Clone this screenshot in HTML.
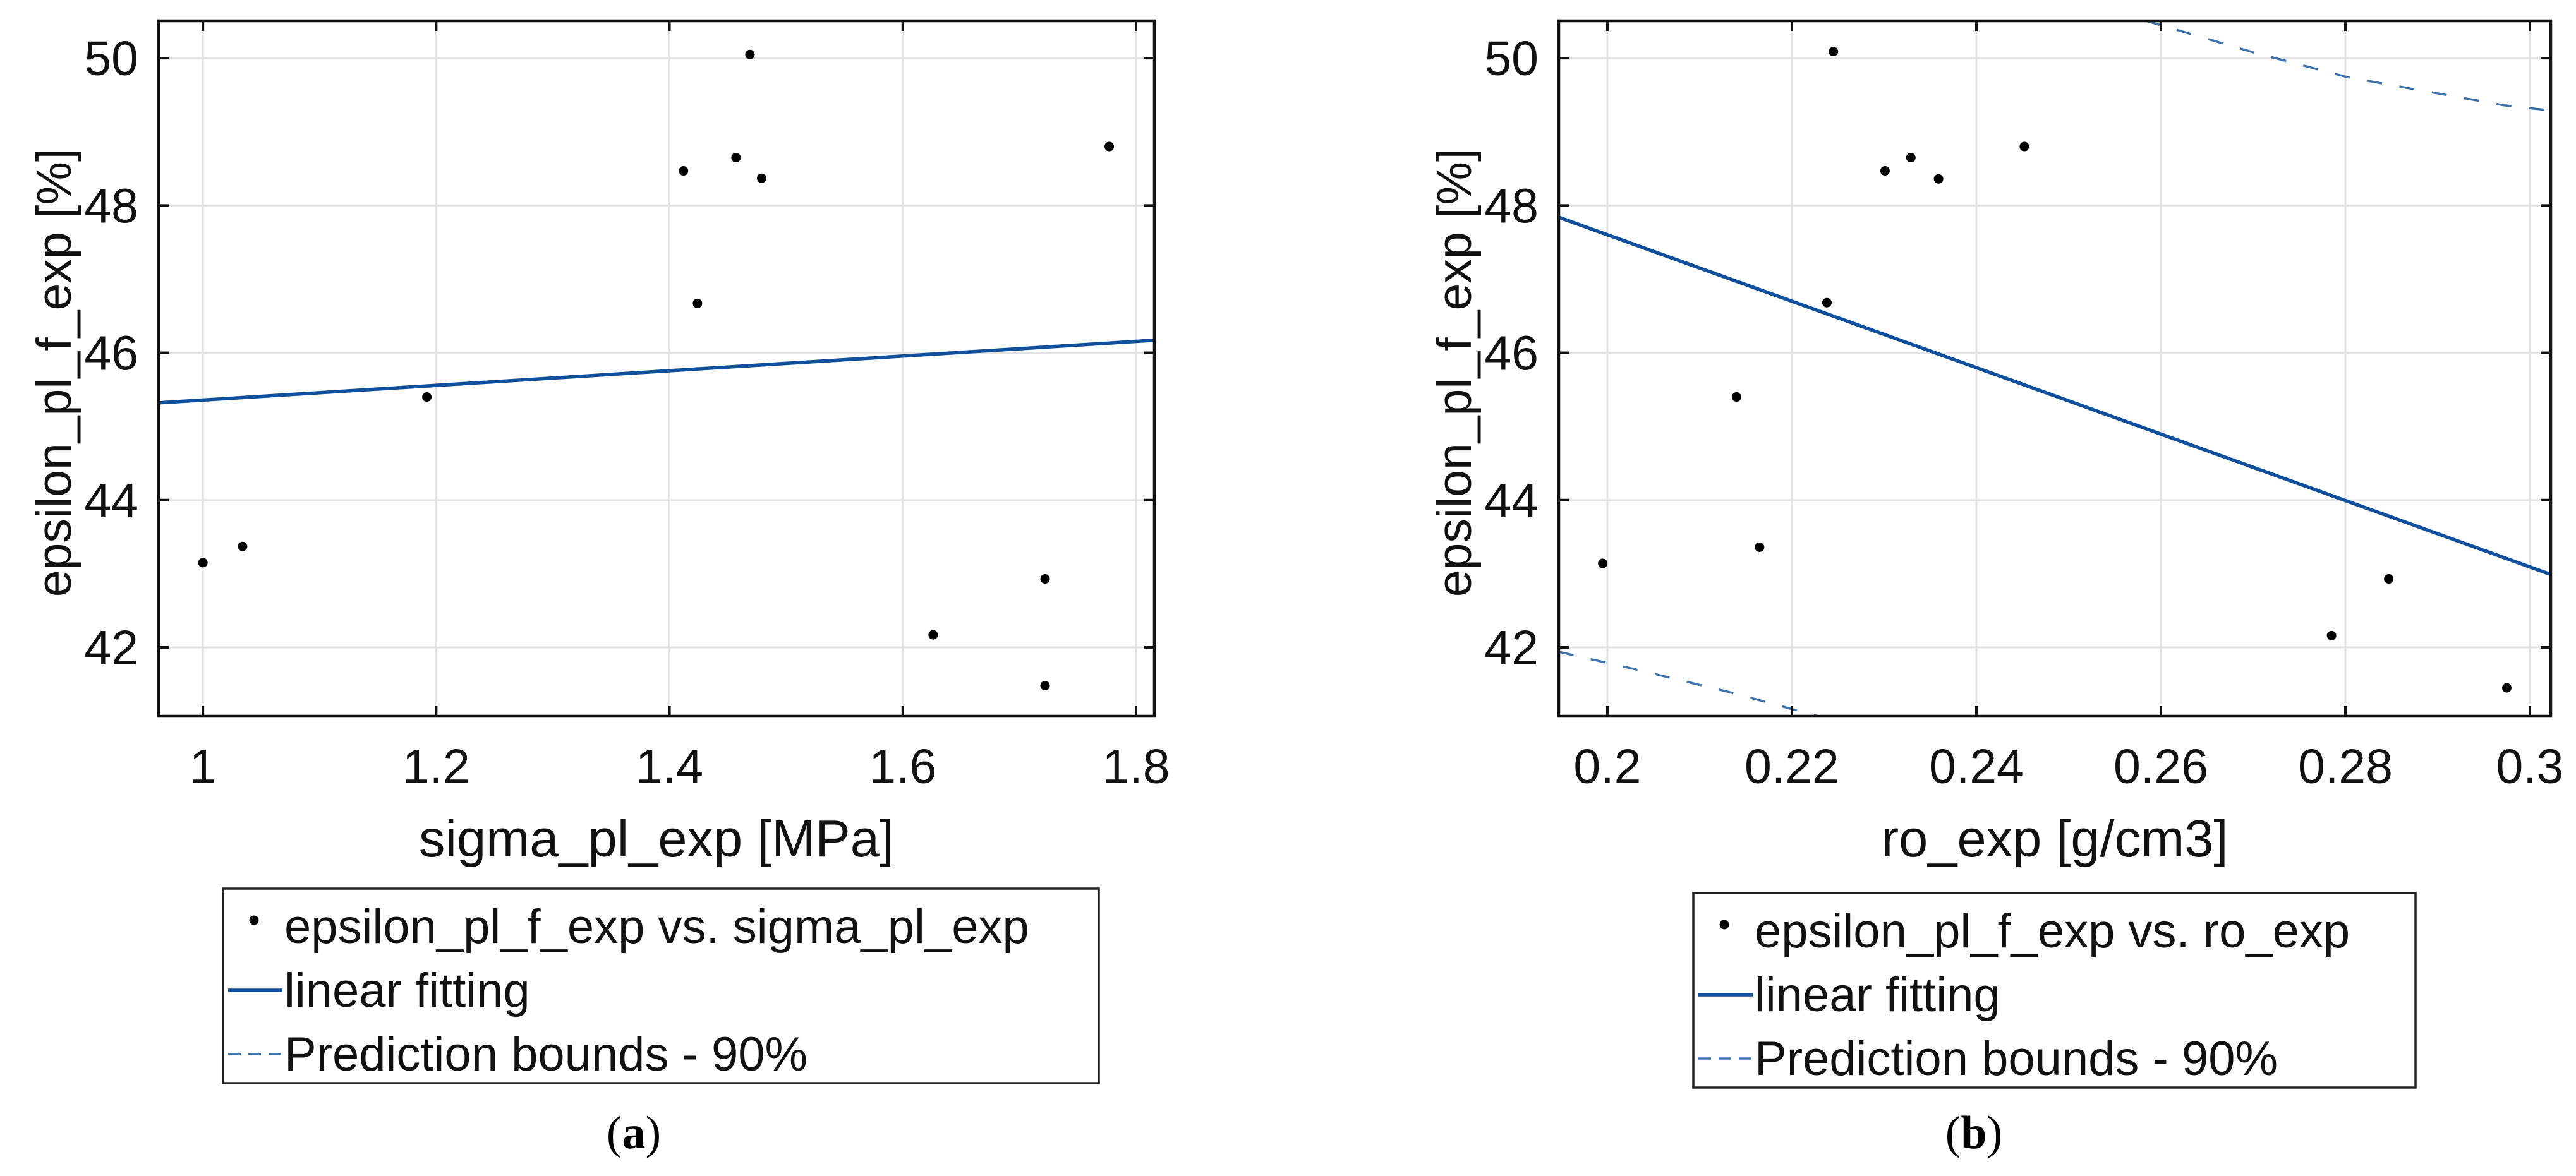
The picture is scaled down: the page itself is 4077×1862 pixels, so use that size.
<!DOCTYPE html>
<html><head><meta charset="utf-8"><style>
html,body{margin:0;padding:0;background:#fff;}
svg{display:block;font-family:"Liberation Sans",Arial,sans-serif;}
</style></head><body>
<svg id="fig" width="4077" height="1862" viewBox="0 0 4077 1862"></svg>
<script>
// ---- data (a) ----
const sigmaX = [1.0, 1.034, 1.192, 1.412, 1.424, 1.457, 1.469, 1.479, 1.626, 1.722, 1.722, 1.777];
const epsA   = [43.15, 43.37, 45.40, 48.47, 46.67, 48.65, 50.05, 48.37, 42.17, 42.93, 41.48, 48.80];
const fitAx  = [0.962, 1.8157];
const fitAy  = [45.32, 46.17];
const xTicksA = [1, 1.2, 1.4, 1.6, 1.8];
const xTickLabelsA = ["1", "1.2", "1.4", "1.6", "1.8"];
// ---- data (b) ----
const roX  = [0.1995, 0.2140, 0.2165, 0.2238, 0.2245, 0.2301, 0.2329, 0.2359, 0.2452, 0.2785, 0.2847, 0.2975];
const epsB = [43.14, 45.40, 43.36, 46.68, 50.09, 48.47, 48.65, 48.36, 48.80, 42.16, 42.93, 41.45];
const fitBx = [0.19473, 0.30226];
const fitBy = [47.84, 42.99];
const upBx = [0.2583, 0.2700, 0.2803, 0.2972, 0.30226];
const upBy = [50.51, 50.08, 49.74, 49.36, 49.29];
const loBx = [0.19473, 0.2031, 0.2130, 0.2229];
const loBy = [41.94, 41.70, 41.40, 41.065];
const xTicksB = [0.2, 0.22, 0.24, 0.26, 0.28, 0.3];
const xTickLabelsB = ["0.2", "0.22", "0.24", "0.26", "0.28", "0.3"];
const yTicks = [42, 44, 46, 48, 50];
const yTickLabels = ["42", "44", "46", "48", "50"];

const NS = "http://www.w3.org/2000/svg";
const svg = document.getElementById('fig');
function mk(tag, attrs, parent) {
  const e = document.createElementNS(NS, tag);
  for (const k in attrs) e.setAttribute(k, attrs[k]);
  (parent || svg).appendChild(e);
  return e;
}
function txt(s, attrs, parent) { const e = mk('text', attrs, parent); e.textContent = s; return e; }

function panel(cfg) {
  const g = mk('g', {});
  
  
  const L = cfg.L, R = cfg.R, T = 33, B = 1134;
  const sx = v => L + (v - cfg.xmin) / (cfg.xmax - cfg.xmin) * (R - L);
  const sy = v => T + (cfg.ymax - v) / (cfg.ymax - cfg.ymin) * (B - T);
  const clip = mk('clipPath', {id: cfg.name + '-clip'}, g);
  mk('rect', {x: L, y: T, width: R - L, height: B - T}, clip);
  cfg.xt.forEach((v, i) => {
    const gl = mk('line', {x1: sx(v), x2: sx(v), y1: T, y2: B, stroke: '#e3e3e3', 'stroke-width': 3}, g);
    
    
  });
  yTicks.forEach(v => {
    const gl = mk('line', {x1: L, x2: R, y1: sy(v), y2: sy(v), stroke: '#e3e3e3', 'stroke-width': 3}, g);
    
    
  });
  const pg = mk('g', {'clip-path': 'url(#' + cfg.name + '-clip)'}, g);
  if (cfg.bounds) cfg.bounds.forEach(b => {
    const d = b[0].map((x, i) => (i ? 'L' : 'M') + sx(x) + ' ' + sy(b[1][i])).join(' ');
    const p = mk('path', {d: d, fill: 'none', stroke: '#3d72aa', 'stroke-width': 3.5, 'stroke-dasharray': '24 28'}, pg);
    
    
  });
  const fl = mk('line', {x1: sx(cfg.fx[0]), y1: sy(cfg.fy[0]), x2: sx(cfg.fx[1]), y2: sy(cfg.fy[1]), stroke: '#0f4f9b', 'stroke-width': 5.5}, pg);
  
  
  cfg.px.forEach((x, i) => {
    const c = mk('circle', {cx: sx(x), cy: sy(cfg.py[i]), r: 7.5, fill: '#000'}, pg);
    
    
  });
  const box = mk('rect', {x: L, y: T, width: R - L, height: B - T, fill: 'none', stroke: '#111', 'stroke-width': 4.5}, g);
  
  
  cfg.xt.forEach((v, i) => {
    mk('line', {x1: sx(v), x2: sx(v), y1: B, y2: B - 16, stroke: '#111', 'stroke-width': 4}, g);
    mk('line', {x1: sx(v), x2: sx(v), y1: T, y2: T + 16, stroke: '#111', 'stroke-width': 4}, g);
    const t = txt(cfg.xl[i], {x: sx(v), y: 1240, 'font-size': 77, 'text-anchor': 'middle', fill: '#111'}, g);
    
    
  });
  yTicks.forEach((v, i) => {
    mk('line', {x1: L, x2: L + 16, y1: sy(v), y2: sy(v), stroke: '#111', 'stroke-width': 4}, g);
    mk('line', {x1: R, x2: R - 16, y1: sy(v), y2: sy(v), stroke: '#111', 'stroke-width': 4}, g);
    const t = txt(yTickLabels[i], {x: L - 32, y: sy(v) + 27, 'font-size': 77, 'text-anchor': 'end', fill: '#111'}, g);
    
    
  });
  const xt = txt(cfg.xtitle, {x: (L + R) / 2, y: 1356, 'font-size': 83, 'text-anchor': 'middle', fill: '#111'}, g);
  
  
  const yt = txt('epsilon_pl_f_exp [%]', {x: 0, y: 0, 'font-size': 77, 'text-anchor': 'middle', fill: '#111', transform: 'translate(' + cfg.ytx + ',590) rotate(-90)'}, g);
  
  
  const lg = mk('g', {}, g);
  
  
  const LT = cfg.lt, LL = cfg.ll;
  mk('rect', {x: LL, y: LT, width: cfg.lw, height: 308, fill: '#fff', stroke: '#222', 'stroke-width': 3.5}, lg);
  const tx = LL + 97, rows = [86, 187, 288];
  const dot = mk('circle', {cx: LL + 49, cy: LT + rows[0] - 36, r: 7.5, fill: '#000'}, lg);
  
  
  const l1 = mk('line', {x1: LL + 8, x2: LL + 94, y1: LT + rows[1] - 26, y2: LT + rows[1] - 26, stroke: '#0f4f9b', 'stroke-width': 5.5}, lg);
  
  
  const l2 = mk('line', {x1: LL + 8, x2: LL + 94, y1: LT + rows[2] - 26, y2: LT + rows[2] - 26, stroke: '#3d72aa', 'stroke-width': 3.5, 'stroke-dasharray': '20 12'}, lg);
  
  
  [cfg.leg1, 'linear fitting', 'Prediction bounds - 90%'].forEach((s, i) => {
    const t = txt(s, {x: tx, y: LT + rows[i], 'font-size': 76, fill: '#111'}, lg);
    
    
  });
  const cap = mk('text', {x: cfg.capx, y: 1818, 'font-size': 74, 'text-anchor': 'middle', fill: '#000', 'font-family': '"Liberation Serif",serif'}, g);
  
  
  cap.appendChild(document.createTextNode('('));
  const b = mk('tspan', {'font-weight': 'bold'}, cap); b.textContent = cfg.cap;
  cap.appendChild(document.createTextNode(')'));
}

panel({name: 'panel-a', L: 251, R: 1827, xmin: 0.962, xmax: 1.8157, ymin: 41.065, ymax: 50.507,
  xt: xTicksA, xl: xTickLabelsA, px: sigmaX, py: epsA, fx: fitAx, fy: fitAy, bounds: null,
  xtitle: 'sigma_pl_exp [MPa]', ytx: 112, lt: 1407, ll: 353, lw: 1386,
  leg1: 'epsilon_pl_f_exp vs. sigma_pl_exp', capx: 1003, cap: 'a'});
panel({name: 'panel-b', L: 2467, R: 4037, xmin: 0.19473, xmax: 0.30226, ymin: 41.065, ymax: 50.507,
  xt: xTicksB, xl: xTickLabelsB, px: roX, py: epsB, fx: fitBx, fy: fitBy, bounds: [[upBx, upBy], [loBx, loBy]],
  xtitle: 'ro_exp [g/cm3]', ytx: 2328, lt: 1414, ll: 2680, lw: 1143,
  leg1: 'epsilon_pl_f_exp vs. ro_exp', capx: 3124, cap: 'b'});
</script>
</body></html>
